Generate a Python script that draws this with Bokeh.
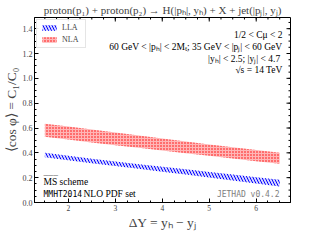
import math
from bokeh.plotting import figure
from bokeh.models import Label, Range1d, Legend, LegendItem, FixedTicker, CustomJSTickFormatter
from bokeh.embed import file_html
from bokeh.resources import INLINE

# ---- data ----
dY = [1.5, 2.0, 2.5, 3.0, 3.5, 4.0, 4.5, 5.0, 5.5, 6.0, 6.5]
lla_hi = [0.400, 0.376, 0.353, 0.331, 0.309, 0.288, 0.267, 0.246, 0.225, 0.204, 0.183]
lla_lo = [0.365, 0.341, 0.317, 0.294, 0.271, 0.248, 0.225, 0.201, 0.177, 0.153, 0.128]
nla_hi = [0.635, 0.612, 0.588, 0.563, 0.539, 0.515, 0.491, 0.467, 0.444, 0.422, 0.400]
nla_lo = [0.530, 0.507, 0.484, 0.462, 0.440, 0.418, 0.397, 0.376, 0.355, 0.333, 0.312]
x_ticks = [2, 3, 4, 5, 6]
x_minor = [1.5 + 0.25 * i for i in range(21)]
y_ticks = [0.0, 0.2, 0.4, 0.6, 0.8, 1.0, 1.2, 1.4]
y_minor = [0.05 * i for i in range(30)]

SERIF = "Liberation Serif"
MONO = "DejaVu Sans Mono"
X0, X1 = 1.28, 6.73
Y0, Y1 = 0.0, 1.49

W, H = 294, 232

p = figure(width=W, height=H, output_backend="svg", toolbar_location=None,
           x_range=Range1d(X0, X1), y_range=Range1d(Y0, Y1),
           min_border_left=0, min_border_top=0, min_border_right=4, min_border_bottom=0)
p.xgrid.visible = False
p.ygrid.visible = False
p.outline_line_color = "black"
p.outline_line_width = 1

p.title.text = ("proton(p\u2081) + proton(p\u2082) \u2192 H(|p\u2095|, y\u2095) + X + "
                "jet(|p\u2c7c|, y\u2c7c)")
p.title.text_font = SERIF
p.title.text_font_style = "normal"
p.title.text_font_size = "11px"
p.title.align = "center"
p.title.standoff = 3
p.title.offset = 0

xt = FixedTicker(ticks=x_ticks, minor_ticks=x_minor)
yt = FixedTicker(ticks=y_ticks, minor_ticks=y_minor)
p.xaxis[0].ticker = xt
p.yaxis[0].ticker = yt
p.yaxis[0].formatter = CustomJSTickFormatter(code="return tick.toFixed(1)")
for ax in (p.xaxis[0], p.yaxis[0]):
    ax.major_tick_in = 4
    ax.major_tick_out = 0
    ax.minor_tick_in = 2
    ax.minor_tick_out = 0
    ax.axis_line_color = "black"
    ax.major_label_text_font = SERIF
    ax.major_label_standoff = 2
    ax.axis_label_text_font = SERIF
    ax.axis_label_text_font_style = "normal"
    ax.axis_label_standoff = 1
p.yaxis[0].major_label_text_font_size = "8px"
p.xaxis[0].major_label_text_font_size = "7.5px"
p.xaxis[0].axis_label = "\u0394Y = y\u2095 \u2212 y\u2c7c"
p.xaxis[0].axis_label_text_font_size = "13.5px"
p.yaxis[0].axis_label = "\u27e8cos \u03c6\u27e9 = C\u2081/C\u2080"
p.yaxis[0].axis_label_text_font_size = "13.5px"

# mirror ticks on top and right (dash markers centred on the frame edge, clipped outside)
p.scatter(x=x_ticks, y=[Y1] * len(x_ticks), marker="dash", size=8, angle=math.pi / 2,
          line_color="black", line_width=1)
p.scatter(x=x_minor, y=[Y1] * len(x_minor), marker="dash", size=4, angle=math.pi / 2,
          line_color="black", line_width=1)
p.scatter(x=[X1] * len(y_ticks), y=y_ticks, marker="dash", size=8,
          line_color="black", line_width=1)
p.scatter(x=[X1] * len(y_minor), y=y_minor, marker="dash", size=4,
          line_color="black", line_width=1)

# ---- bands ----
r_nla = p.varea(x=dY, y1=nla_lo, y2=nla_hi, fill_color="#ff7a7a", fill_alpha=0.55,
                hatch_pattern=".", hatch_color="#ff0000", hatch_scale=3, hatch_weight=1)
r_lla = p.varea(x=dY, y1=lla_lo, y2=lla_hi, fill_color="#b0b0ff", fill_alpha=0.5,
                hatch_pattern="\\", hatch_color="#0000ff", hatch_scale=6, hatch_weight=1)

leg = Legend(items=[LegendItem(label="LLA", renderers=[r_lla]),
                    LegendItem(label="NLA", renderers=[r_nla])],
             location="top_left")
leg.label_text_font = SERIF
leg.label_text_font_size = "8px"
leg.glyph_width = 18
leg.glyph_height = 7
leg.label_height = 8
leg.padding = 3
leg.spacing = 3
leg.margin = 2
leg.label_standoff = 4
leg.border_line_color = "#cccccc"
leg.border_line_width = 1
leg.background_fill_alpha = 0.9
p.add_layout(leg)

# ---- texts inside the frame ----
def txt(text, right, yv, size, font=SERIF, color="black", dx=8):
    p.add_layout(Label(x=X1 if right else X0, y=yv, x_offset=-dx if right else dx,
                       text=text, text_font=font, text_font_size=f"{size}px",
                       text_align="right" if right else "left",
                       text_baseline="middle", text_color=color))

txt("1/2 < C\u03bc < 2", True, 1.35, 9.5)
txt("60 GeV < |p\u2095| < 2M\u209c; 35 GeV < |p\u2c7c| < 60 GeV", True, 1.25, 9.5)
txt("|y\u2095| < 2.5;  |y\u2c7c| < 4.7", True, 1.155, 9.5)
txt("\u221as = 14 TeV", True, 1.065, 9.5)
txt("MS scheme", False, 0.165, 9.5, dx=9)
txt("\u203e\u203e\u203e", False, 0.185, 8, font=MONO, dx=9)
txt("MMHT2014", False, 0.066, 8, font=MONO, dx=9)
txt("NLO PDF set", False, 0.066, 9.5, dx=49)
txt("JETHAD v0.4.2", True, 0.066, 8, font=MONO, color="#808080", dx=11)

open("out.html", "w").write(file_html(p, INLINE))
